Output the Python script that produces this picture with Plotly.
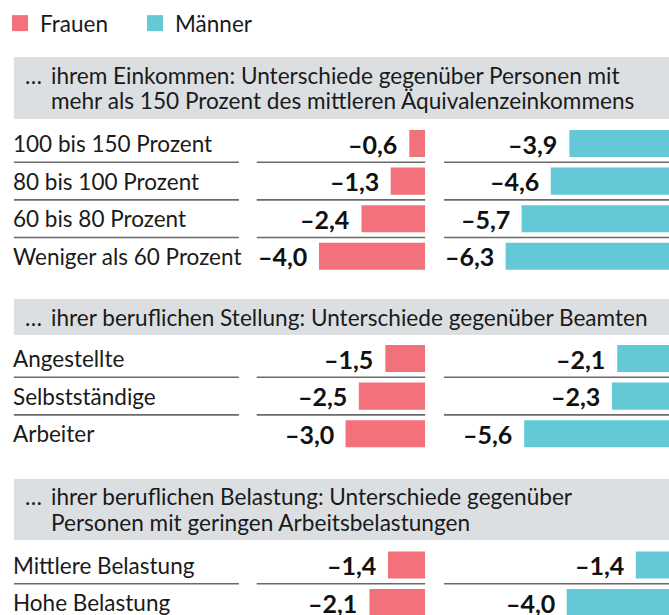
import plotly.graph_objects as go

# ---------------- data ----------------
headers = [
    ["ihrem Einkommen: Unterschiede gegenüber Personen mit",
     "mehr als 150 Prozent des mittleren Äquivalenzeinkommens"],
    ["ihrer beruflichen Stellung: Unterschiede gegenüber Beamten"],
    ["ihrer beruflichen Belastung: Unterschiede gegenüber",
     "Personen mit geringen Arbeitsbelastungen"],
]
cats_income = ["100 bis 150 Prozent", "80 bis 100 Prozent", "60 bis 80 Prozent", "Weniger als 60 Prozent"]
women_income = [-0.6, -1.3, -2.4, -4.0]
men_income = [-3.9, -4.6, -5.7, -6.3]

cats_job = ["Angestellte", "Selbstständige", "Arbeiter"]
women_job = [-1.5, -2.5, -3.0]
men_job = [-2.1, -2.3, -5.6]

cats_load = ["Mittlere Belastung", "Hohe Belastung"]
women_load = [-1.4, -2.1]
men_load = [-1.4, -4.0]

sections = [
    (cats_income, women_income, men_income),
    (cats_job, women_job, men_job),
    (cats_load, women_load, men_load),
]

# ---------------- style / layout ----------------
W, H = 669, 615
C_W = "#f2717a"
C_M = "#63c9d7"
C_GRAY = "#dcdfe2"
C_TXT = "#1a1a1a"
C_LINE = "#6a6a6a"
FONT = "Lato"
FS_LAB = 22.5
FS_HEAD = 22.6
FS_VAL = 25

PXU = 26.8                 # pixels per unit
LAB = (8, 235)
WCOL = (253, 423)          # women column, zero at right edge
MCOL = (442, 669)          # men column
M_ZERO = 673
PITCH = 37.6
HBOX = [(57, 119), (299, 335), (479, 540)]
ROW0 = [143.5, 358.5, 565.0]
HLINE = 26


def px(x):
    return x / W


def py(y):
    return 1 - y / H


fig = go.Figure()

fig.update_layout(
    xaxis=dict(domain=[px(WCOL[0]), px(WCOL[1])],
               range=[-(WCOL[1] - WCOL[0]) / PXU, 0], visible=False, fixedrange=True),
    xaxis2=dict(domain=[px(MCOL[0]), px(MCOL[1])],
                range=[-(M_ZERO - MCOL[0]) / PXU, -(M_ZERO - MCOL[1]) / PXU],
                visible=False, fixedrange=True),
)

shapes = []
annotations = []
yaxes = {}
for s, (cats, wv, mv) in enumerate(sections):
    n = len(cats)
    top = ROW0[s] - PITCH / 2
    bot = ROW0[s] + (n - 1) * PITCH + PITCH / 2
    rng_bot = n - 0.5
    if bot > H:
        rng_bot = n - 0.5 - (bot - H) / PITCH
        bot = H
    yname = "yaxis" if s == 0 else f"yaxis{s + 1}"
    yref = "y" if s == 0 else f"y{s + 1}"
    yaxes[yname] = dict(domain=[py(bot), py(top)], range=[rng_bot, -0.5],
                        visible=False, fixedrange=True)
    idx = list(range(n))
    fig.add_trace(go.Bar(x=wv, y=idx, orientation="h", marker=dict(color=C_W, line=dict(width=0)),
                         width=0.72, xaxis="x", yaxis=yref, showlegend=False, hoverinfo="skip"))
    fig.add_trace(go.Bar(x=mv, y=idx, orientation="h", marker=dict(color=C_M, line=dict(width=0)),
                         width=0.72, xaxis="x2", yaxis=yref, showlegend=False, hoverinfo="skip"))
    for i, c in enumerate(cats):
        annotations.append(dict(x=px(LAB[0]), xref="paper", xanchor="left", xshift=-3, y=i, yref=yref,
                                yanchor="middle", text=c, showarrow=False,
                                font=dict(size=FS_LAB, color=C_TXT, family=FONT)))
        for xr, v in (("x", wv[i]), ("x2", mv[i])):
            annotations.append(dict(x=v, xref=xr, xanchor="right", xshift=-10, y=i, yref=yref,
                                    yanchor="middle",
                                    text="<b>" + f"{v:.1f}".replace("-", "–").replace(".", ",") + "</b>",
                                    showarrow=False,
                                    font=dict(size=FS_VAL, color="#111111", family=FONT, weight=900)))
    for i in range(n - 1):
        for x0, x1 in (LAB, WCOL, MCOL):
            shapes.append(dict(type="line", xref="paper", yref=yref, x0=px(x0), x1=px(x1),
                               y0=i + 0.5, y1=i + 0.5, line=dict(color=C_LINE, width=1.6)))
    # header
    t, b = HBOX[s]
    shapes.append(dict(type="rect", xref="paper", yref="paper", x0=px(8), x1=1,
                       y0=py(b), y1=py(t), fillcolor=C_GRAY, line=dict(width=0), layer="below"))
    lines = headers[s]
    mid = (t + b) / 2
    for k, ln in enumerate(lines):
        yc = mid + (k - (len(lines) - 1) / 2) * HLINE
        if k == 0:
            annotations.append(dict(x=px(17), xref="paper", xanchor="left", y=py(yc), yref="paper",
                                    yanchor="middle", text="…", showarrow=False,
                                    font=dict(size=FS_HEAD, color=C_TXT, family=FONT)))
        annotations.append(dict(x=px(43), xref="paper", xanchor="left", y=py(yc), yref="paper",
                                yanchor="middle", text=ln, showarrow=False,
                                font=dict(size=FS_HEAD, color=C_TXT, family=FONT)))

fig.update_layout(**yaxes)

# legend entries
fig.add_trace(go.Scatter(x=[None], y=[None], mode="markers", name="Frauen",
                         marker=dict(symbol="square", size=17, color=C_W)))
fig.add_trace(go.Scatter(x=[None], y=[None], mode="markers", name="Männer",
                         marker=dict(symbol="square", size=17, color=C_M)))

fig.update_layout(
    width=W, height=H,
    margin=dict(l=0, r=0, t=0, b=0),
    paper_bgcolor="white", plot_bgcolor="rgba(0,0,0,0)",
    font=dict(family=FONT, color=C_TXT),
    barmode="overlay",
    showlegend=True,
    legend=dict(orientation="h", x=-0.009, y=py(2), xanchor="left", yanchor="top",
                font=dict(size=22.5, color=C_TXT, family=FONT), entrywidth=90,
                itemclick=False, itemdoubleclick=False, bgcolor="rgba(0,0,0,0)"),
    shapes=shapes,
    annotations=annotations,
)

fig.write_html("out.html", config={"displayModeBar": False},
               post_script="document.body.style.margin='0';")
